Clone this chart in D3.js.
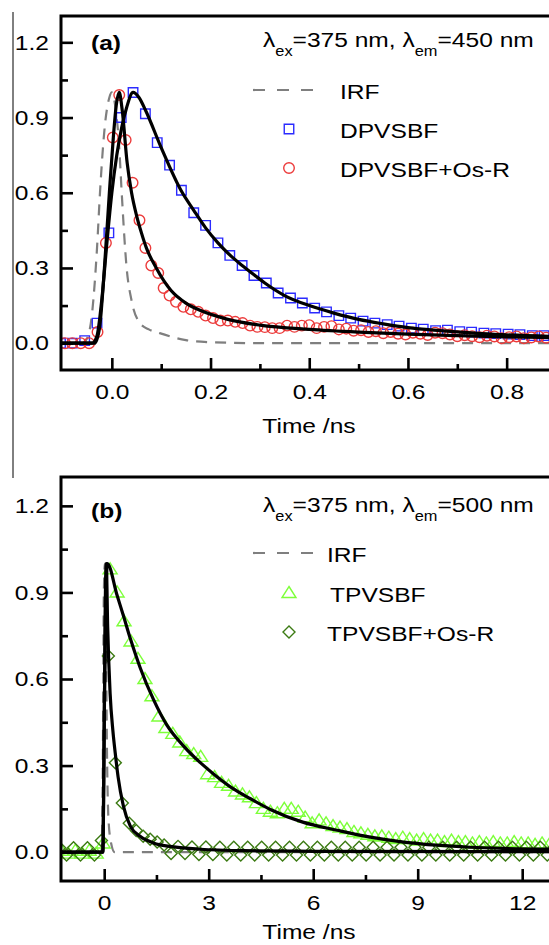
<!DOCTYPE html>
<html>
<head>
<meta charset="utf-8">
<script src="https://cdn.jsdelivr.net/npm/d3@7"></script>
<style>
  body { margin: 0; background: #fff; }
  svg { display: block; }
</style>
</head>
<body>
<div id="chart"></div>
<script>
// ---------- panel (a) data: time /ns, normalized intensity ----------
const irfA = [[-0.103,0],[-0.06,0],[-0.05,0.02],[-0.04,0.12],[-0.03,0.38],[-0.024,0.6],[-0.015,0.85],[-0.005,0.98],
  [0.0,1.0],[0.008,0.93],[0.015,0.78],[0.02,0.6],[0.03,0.3],[0.04,0.17],[0.057,0.08],[0.075,0.055],[0.097,0.04],
  [0.15,0.012],[0.2,0.004],[0.3,0],[0.9,0]];

const dpvTime = [-0.104,-0.080,-0.055,-0.030,-0.006,0.019,0.043,0.068,0.092,0.117,0.141,0.166,0.190,0.215,0.239,
  0.264,0.288,0.313,0.337,0.362,0.386,0.411,0.435,0.460,0.484,0.509,0.533,0.558,0.582,0.607,0.631,0.656,0.680,
  0.705,0.729,0.754,0.778,0.803,0.827,0.852,0.876,0.901];
const dpvValue = [0,0,0.01,0.08,0.44,0.90,1.00,0.915,0.80,0.71,0.61,0.52,0.47,0.40,0.35,0.31,0.27,0.24,0.20,0.18,
  0.16,0.14,0.125,0.11,0.10,0.088,0.08,0.074,0.068,0.06,0.056,0.05,0.052,0.046,0.044,0.04,0.038,0.036,0.034,
  0.03,0.03,0.028];

const dpvOsTime = [-0.095,-0.08,-0.063,-0.046,-0.029,-0.012,0.002,0.015,0.028,0.042,0.056,0.068,0.08,0.094,0.105,
  0.117,0.13,0.145,0.16,0.175,0.19,0.205,0.22,0.235,0.25,0.265,0.28,0.295,0.31,0.325,
  0.34,0.355,0.37,0.385,0.40,0.415,0.43,0.445,0.46,0.475,0.49,0.505,0.52,0.535,0.55,0.565,0.58,0.595,0.61,
  0.625,0.64,0.655,0.67,0.685,0.70,0.715,0.73,0.745,0.76,0.775,0.79,0.805,0.82,0.835,0.85,0.865,0.88];
const dpvOsValue = [0,0,0,0,0.045,0.40,0.82,0.99,0.81,0.64,0.49,0.38,0.31,0.28,0.22,0.19,0.165,0.145,0.135,0.125,
  0.11,0.10,0.09,0.09,0.085,0.08,0.07,0.065,0.064,0.06,
  0.06,0.07,0.065,0.07,0.072,0.06,0.065,0.068,0.055,0.058,0.05,0.052,0.045,0.048,0.04,0.045,0.038,0.035,0.042,
  0.038,0.033,0.042,0.04,0.035,0.028,0.032,0.028,0.024,0.03,0.027,0.02,0.024,0.027,0.02,0.023,0.027,0.022];

const dpvFit = [[-0.103,0],[-0.04,0],[-0.03,0.03],[-0.02,0.18],[-0.01,0.4],[0.0,0.6],[0.01,0.75],[0.02,0.86],
  [0.03,0.94],[0.043,1.0],[0.055,0.98],[0.068,0.93],[0.1,0.78],[0.14,0.61],[0.166,0.53],[0.19,0.46],[0.215,0.40],
  [0.24,0.35],[0.264,0.31],[0.29,0.27],[0.31,0.24],[0.35,0.19],[0.4,0.15],[0.45,0.12],[0.5,0.095],[0.55,0.077],
  [0.6,0.062],[0.665,0.05],[0.75,0.038],[0.9,0.026]];
const dpvOsFit = [[-0.103,0],[-0.035,0],[-0.025,0.06],[-0.015,0.3],[-0.005,0.6],[0.003,0.82],[0.009,0.95],
  [0.015,1.0],[0.021,0.93],[0.031,0.72],[0.04,0.6],[0.05,0.51],[0.06,0.44],[0.07,0.38],[0.09,0.30],[0.12,0.21],
  [0.15,0.16],[0.18,0.13],[0.235,0.095],[0.3,0.072],[0.4,0.055],[0.5,0.044],[0.6,0.036],[0.7,0.03],[0.8,0.025],
  [0.9,0.022]];

// ---------- panel (b) data ----------
const irfB = [[-1.24,0],[-0.08,0],[-0.04,0.3],[-0.01,0.9],[0.02,1.0],[0.05,0.75],[0.08,0.35],[0.12,0.12],
  [0.2,0.03],[0.3,0],[13.2,0]];

const tpvTime = [-1.23,-1.03,-0.83,-0.63,-0.43,-0.23,-0.03,0.17,0.37,0.57,0.77,0.97,1.17,1.37,1.57,1.77,1.97,
  2.17,2.37,2.57,2.77,2.97,3.17,3.37,3.57,3.77,3.97,4.17,4.37,4.57,4.77,4.97,5.17,5.37,5.57,5.77,5.97,6.17,6.37,
  6.57,6.77,6.97,7.17,7.37,7.57,7.77,7.97,8.17,8.37,8.57,8.77,8.97,9.17,9.37,9.57,9.77,9.97,10.17,10.37,10.57,
  10.77,10.97,11.17,11.37,11.57,11.77,11.97,12.17,12.37,12.57,12.77,12.97,13.17];
const tpvValue = [0.005,-0.005,0.005,-0.005,0.005,-0.005,0.03,0.98,0.90,0.80,0.73,0.67,0.60,0.54,0.47,0.43,0.41,
  0.38,0.35,0.34,0.33,0.27,0.26,0.24,0.23,0.21,0.20,0.19,0.17,0.15,0.14,0.135,0.15,0.15,0.14,0.12,0.10,0.11,0.10,
  0.09,0.085,0.08,0.07,0.065,0.06,0.055,0.055,0.05,0.045,0.05,0.045,0.04,0.045,0.04,0.04,0.035,0.04,0.035,0.035,
  0.03,0.035,0.03,0.035,0.03,0.03,0.035,0.03,0.03,0.025,0.03,0.025,0.03,0.025];

const tpvOsTime = [-1.28,-1.08,-0.88,-0.68,-0.48,-0.28,-0.08,0.12,0.32,0.52,0.72,0.92,1.12,1.32,1.52,1.72,1.92,
  2.12,2.32,2.52,2.72,2.92,3.12,3.32,3.52,3.72,3.92,4.12,4.32,4.52,4.72,4.92,5.12,5.32,5.52,5.72,5.92,6.12,6.32,
  6.52,6.72,6.92,7.12,7.32,7.52,7.72,7.92,8.12,8.32,8.52,8.72,8.92,9.12,9.32,9.52,9.72,9.92,10.12,10.32,10.52,
  10.72,10.92,11.12,11.32,11.52,11.72,11.92,12.12,12.32,12.52,12.72,12.92,13.12];
const tpvOsValue = [0.015,-0.01,0.015,-0.01,0.015,-0.01,0.04,0.68,0.31,0.17,0.10,0.075,0.055,0.045,0.035,0.025,
  -0.005,0.02,-0.005,0.018,-0.008,0.018,-0.008,0.017,-0.01,0.017,-0.01,0.017,-0.01,0.017,-0.01,0.017,-0.01,0.017,
  -0.01,0.017,-0.01,0.017,-0.01,0.017,-0.01,0.017,-0.01,0.017,-0.01,0.017,-0.01,0.017,-0.01,0.017,-0.01,0.017,
  -0.01,0.017,-0.01,0.017,-0.01,0.017,-0.01,0.017,-0.01,0.017,-0.01,0.017,-0.01,0.017,-0.01,0.017,-0.01,0.017,
  -0.01,0.017,-0.01];

const tpvFit = [[-1.24,0],[-0.04,0],[0.0,0.45],[0.04,0.85],[0.09,1.0],[0.37,0.89],[0.55,0.82],[0.75,0.74],
  [1.03,0.64],[1.41,0.53],[1.8,0.44],[2.3,0.365],[2.76,0.31],[3.2,0.265],[3.7,0.22],[4.2,0.185],[4.77,0.148],
  [5.7,0.104],[6.69,0.076],[7.64,0.052],[8.6,0.035],[9.55,0.024],[10.5,0.017],[11.45,0.013],[13.2,0.01]];
const tpvOsFit = [[-1.24,0],[-0.04,0],[0.0,0.4],[0.03,0.85],[0.06,1.0],[0.1,0.78],[0.17,0.55],[0.25,0.42],
  [0.32,0.34],[0.4,0.26],[0.55,0.16],[0.75,0.09],[1.03,0.055],[1.41,0.032],[2.0,0.018],[2.76,0.01],[4,0.005],
  [6,0.003],[13.2,0.002]];

// ticks
const yMajor = [0, 0.3, 0.6, 0.9, 1.2];
const yMinor = [0.15, 0.45, 0.75, 1.05];
const xMajorA = [0, 0.2, 0.4, 0.6, 0.8];
const xMinorA = [0.1, 0.3, 0.5, 0.7];
const xMajorB = [0, 3, 6, 9, 12];
const xMinorB = [1.5, 4.5, 7.5, 10.5];

// ---------- drawing ----------
const W = 549, H = 945;
const SX = 1.17;               // the source figure is stretched sideways
const FONT = "Arial, 'Liberation Sans', sans-serif";
const FS = 21;

const svg = d3.select("#chart").append("svg")
    .attr("width", W)
    .attr("height", H);

// thin page rule on the far left
svg.append("line")
    .attr("x1", 13).attr("x2", 13)
    .attr("y1", 12).attr("y2", 478)
    .attr("stroke", "#000").attr("stroke-width", 1);

function stretchedText(x, y, txt) {
  return svg.append("text")
      .attr("transform", `translate(${x},${y}) scale(${SX},1)`)
      .attr("font-family", FONT)
      .attr("font-size", FS)
      .text(txt);
}

const markers = {
  square: d3.symbol().type(d3.symbolSquare).size(90),
  circle: d3.symbol().type(d3.symbolCircle).size(88),
  triangle: () => "M0,-6.5L7,4.5L-7,4.5Z",
  diamond: () => "M0,-6L6,0L0,6L-6,0Z"
};

function panel(cfg, id) {
  const x = d3.scaleLinear().domain(cfg.xDomain).range([cfg.left, cfg.right]);
  const y = d3.scaleLinear().domain(cfg.yDomain).range([cfg.bottom, cfg.top]);

  svg.append("clipPath").attr("id", "clip" + id)
    .append("rect")
      .attr("x", cfg.left).attr("y", cfg.top)
      .attr("width", cfg.right - cfg.left).attr("height", cfg.bottom - cfg.top);

  const plot = svg.append("g").attr("clip-path", `url(#clip${id})`);
  const line = d3.line().x(d => x(d[0])).y(d => y(d[1])).curve(d3.curveMonotoneX);

  // IRF
  plot.append("path")
      .datum(cfg.irf)
      .attr("d", line)
      .attr("fill", "none")
      .attr("stroke", "#7f7f7f")
      .attr("stroke-width", 2.2)
      .attr("stroke-dasharray", "11,8");

  // measured decays
  cfg.series.forEach(s => {
    plot.selectAll(null)
      .data(s.t.map((t, i) => [t, s.v[i]]))
      .join("path")
        .attr("transform", d => `translate(${x(d[0])},${y(d[1])})`)
        .attr("d", markers[s.shape])
        .attr("fill", "none")
        .attr("stroke", s.color)
        .attr("stroke-width", 1.4);
  });

  // fits
  cfg.fits.forEach(f => {
    plot.append("path")
        .datum(f)
        .attr("d", line)
        .attr("fill", "none")
        .attr("stroke", "#000")
        .attr("stroke-width", 3.2)
        .attr("stroke-linejoin", "round");
  });

  // axes
  function styleAxis(g) {
    g.select(".domain").remove();
    g.selectAll("line").attr("stroke", "#000").attr("stroke-width", 2.6);
    g.selectAll("text")
      .attr("font-family", FONT)
      .attr("font-size", FS)
      .attr("fill", "#000")
      .attr("transform", `scale(${SX},1)`);
  }
  svg.append("g")
      .attr("transform", `translate(0,${cfg.bottom})`)
      .call(d3.axisBottom(x).tickValues(cfg.xMajor).tickFormat(cfg.xFmt)
        .tickSize(-12).tickSizeOuter(0).tickPadding(14.5))
      .call(styleAxis);
  svg.append("g")
      .attr("transform", `translate(0,${cfg.bottom})`)
      .call(d3.axisBottom(x).tickValues(cfg.xMinor).tickFormat("")
        .tickSize(-6).tickSizeOuter(0))
      .call(styleAxis);
  svg.append("g")
      .attr("transform", `translate(${cfg.left},0)`)
      .call(d3.axisLeft(y).tickValues(yMajor).tickFormat(d3.format(".1f"))
        .tickSize(-12).tickSizeOuter(0).tickPadding(10.3))
      .call(styleAxis);
  svg.append("g")
      .attr("transform", `translate(${cfg.left},0)`)
      .call(d3.axisLeft(y).tickValues(yMinor).tickFormat("")
        .tickSize(-7).tickSizeOuter(0))
      .call(styleAxis);

  // frame
  svg.append("rect")
      .attr("x", cfg.left).attr("y", cfg.top)
      .attr("width", cfg.right - cfg.left).attr("height", cfg.bottom - cfg.top)
      .attr("fill", "none")
      .attr("stroke", "#000")
      .attr("stroke-width", 3);

  // axis title
  stretchedText((cfg.left + 549) / 2 + 4, cfg.titleY, "Time /ns").attr("text-anchor", "middle");

  // panel tag
  stretchedText(91, cfg.tagY, cfg.tag).attr("font-weight", "bold");

  // excitation / emission wavelengths
  const sub = stretchedText(263, cfg.subY, "");
  sub.append("tspan").text("λ");
  sub.append("tspan").attr("dy", 9).attr("font-size", 14).text("ex");
  sub.append("tspan").attr("dy", -9).text("=375 nm, λ");
  sub.append("tspan").attr("dy", 9).attr("font-size", 14).text("em");
  sub.append("tspan").attr("dy", -9).text(cfg.em);

  // legend
  svg.append("line")
      .attr("x1", 253).attr("x2", 316)
      .attr("y1", cfg.legY[0]).attr("y2", cfg.legY[0])
      .attr("stroke", "#7f7f7f").attr("stroke-width", 2.2)
      .attr("stroke-dasharray", "12,12");
  stretchedText(cfg.legX[0], cfg.legY[0] + 9, "IRF");
  cfg.series.forEach((s, i) => {
    svg.append("path")
        .attr("transform", `translate(289,${cfg.legY[i + 1]})`)
        .attr("d", markers[s.shape])
        .attr("fill", "none")
        .attr("stroke", s.color)
        .attr("stroke-width", 1.4);
    stretchedText(cfg.legX[i + 1], cfg.legY[i + 1] + 9, s.name);
  });
}

panel({
  left: 61, right: 556, top: 16, bottom: 370,
  xDomain: [-0.103, 0.9], yDomain: [-0.107, 1.305],
  xMajor: xMajorA, xMinor: xMinorA, xFmt: d3.format(".1f"),
  irf: irfA,
  series: [
    {name: "DPVSBF", t: dpvTime, v: dpvValue, shape: "square", color: "#2b2bff"},
    {name: "DPVSBF+Os-R", t: dpvOsTime, v: dpvOsValue, shape: "circle", color: "#ec3b3b"}
  ],
  fits: [dpvFit, dpvOsFit],
  titleY: 433, tagY: 50, tag: "(a)", subY: 47, em: "=450 nm",
  legY: [90, 129, 168], legX: [340, 340, 340]
}, "a");

panel({
  left: 61, right: 564, top: 477, bottom: 881,
  xDomain: [-1.24, 13.2], yDomain: [-0.1, 1.3],
  xMajor: xMajorB, xMinor: xMinorB, xFmt: d3.format("d"),
  irf: irfB,
  series: [
    {name: "TPVSBF", t: tpvTime, v: tpvValue, shape: "triangle", color: "#7dff3a"},
    {name: "TPVSBF+Os-R", t: tpvOsTime, v: tpvOsValue, shape: "diamond", color: "#3b7a12"}
  ],
  fits: [tpvFit, tpvOsFit],
  titleY: 939, tagY: 518, tag: "(b)", subY: 512, em: "=500 nm",
  legY: [553, 593, 632], legX: [327, 330, 327]
}, "b");
</script>
</body>
</html>
